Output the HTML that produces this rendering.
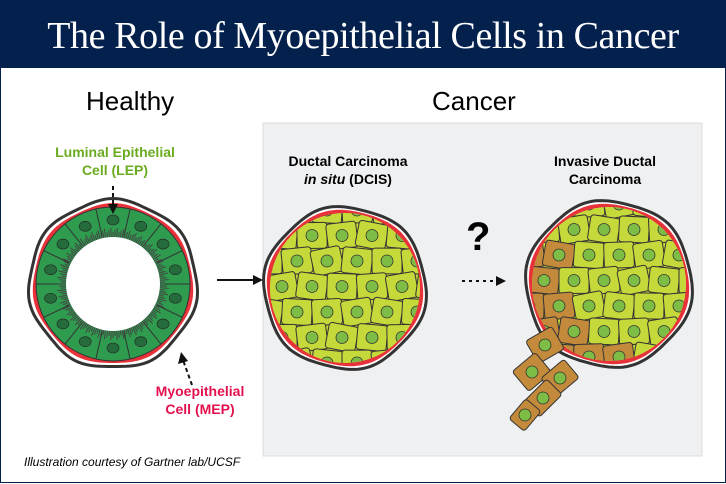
<!DOCTYPE html>
<html><head><meta charset="utf-8"><style>
body{margin:0;width:726px;height:484px;overflow:hidden;background:#fff;font-family:"Liberation Sans",sans-serif;position:relative}
.hd{position:absolute;left:0;top:0;width:726px;height:68px;background:#04214d;color:#fff;font-family:"Liberation Serif",serif;font-size:38px;text-align:center;line-height:72px;letter-spacing:-0.4px}
.frame{position:absolute;left:0;top:68px;width:724px;height:414px;border:1px solid #04214d;border-top:none}
.t{position:absolute;white-space:nowrap}
svg{position:absolute;left:0;top:0}
</style></head><body>
<div class="hd">The Role of Myoepithelial Cells in Cancer</div>
<div class="frame"></div>
<svg width="726" height="484" id="s">
<rect x="263" y="123" width="439" height="333" fill="#eff0f2" stroke="#dcdcdc"/>
<g id="g"></g>
<line x1="217" y1="280" x2="258" y2="280" stroke="#111" stroke-width="2"/>
<polygon points="263,280 253,275 253,285" fill="#111"/>
<line x1="462" y1="281" x2="498" y2="281" stroke="#111" stroke-width="2" stroke-dasharray="3,4"/>
<polygon points="506,281 496,276 496,286" fill="#111"/>
<line x1="113" y1="186" x2="113" y2="206" stroke="#111" stroke-width="2" stroke-dasharray="4,3"/>
<polygon points="113,214 108,204 118,204" fill="#111"/>
<line x1="192" y1="385" x2="183" y2="360" stroke="#111" stroke-width="2" stroke-dasharray="4,3"/>
<polygon points="181,352 178,364 188,361" fill="#111"/>
</svg>
<div class="t" style="left:86px;top:86px;font-size:26px">Healthy</div>
<div class="t" style="left:432px;top:86px;font-size:26px">Cancer</div>
<div class="t" style="left:40px;top:143px;width:150px;text-align:center;font-size:14px;font-weight:bold;color:#6aab1f;line-height:18px">Luminal Epithelial<br>Cell (LEP)</div>
<div class="t" style="left:130px;top:382px;width:140px;text-align:center;font-size:14px;font-weight:bold;color:#e3124f;line-height:18px">Myoepithelial<br>Cell (MEP)</div>
<div class="t" style="left:268px;top:152px;width:160px;text-align:center;font-size:14px;font-weight:bold;line-height:18px">Ductal Carcinoma<br><i>in situ</i> (DCIS)</div>
<div class="t" style="left:540px;top:152px;width:130px;text-align:center;font-size:14px;font-weight:bold;line-height:18px">Invasive Ductal<br>Carcinoma</div>
<div class="t" style="left:466px;top:215px;font-size:40px;font-weight:bold">?</div>
<div class="t" style="left:24px;top:455px;font-size:12px;font-style:italic">Illustration courtesy of Gartner lab/UCSF</div>
<script>
var g=document.getElementById('g'),h='';
function wavy(cx,cy,r,amp,n,sw,col,fill){var p='';for(var i=0;i<=120;i++){var a=i/120*Math.PI*2,rr=r+amp*Math.sin(a*n);p+=(i?'L':'M')+(cx+rr*Math.cos(a)).toFixed(1)+','+(cy+rr*Math.sin(a)).toFixed(1);}h+='<path d="'+p+'Z" fill="'+(fill||'none')+'" stroke="'+col+'" stroke-width="'+sw+'"/>';}
// healthy
wavy(113,284,84,1.5,7,3,'#333','#fff');
wavy(113,284,80,1,7,0,'none','#e8323a');
h+='<circle cx="113" cy="284" r="77" fill="#2e9b4e" stroke="#333"/>';
for(var i=0;i<14;i++){var a=i/14*Math.PI*2;h+='<line x1="'+(113+49*Math.cos(a))+'" y1="'+(284+49*Math.sin(a))+'" x2="'+(113+77*Math.cos(a))+'" y2="'+(284+77*Math.sin(a))+'" stroke="#333"/>';var b=a+Math.PI/14;h+='<ellipse cx="'+(113+64*Math.cos(b))+'" cy="'+(284+64*Math.sin(b))+'" rx="6" ry="5" fill="#256b3c" stroke="#222" stroke-width=".6"/>';}
for(var i=0;i<160;i++){var a=i/160*Math.PI*2,l=5+(i%3)*2;h+='<line x1="'+(113+47*Math.cos(a))+'" y1="'+(284+47*Math.sin(a))+'" x2="'+(113+(47+l)*Math.cos(a))+'" y2="'+(284+(47+l)*Math.sin(a))+'" stroke="#444" stroke-width="1"/>';}
h+='<circle cx="113" cy="284" r="47" fill="#fff"/>';
// tumor balls
function ball(cx,cy,r,id,brown){wavy(cx,cy,r+3,1.5,6,3,'#333','#fff');wavy(cx,cy,r,1,6,0,'none','#e8323a');
h+='<clipPath id="'+id+'"><circle cx="'+cx+'" cy="'+cy+'" r="'+(r-3)+'"/></clipPath><g clip-path="url(#'+id+')"><circle cx="'+cx+'" cy="'+cy+'" r="'+r+'" fill="#c6d93a"/>';
var s=30,row=0;for(var y=cy-r;y<cy+r+s;y+=s*0.85,row++){for(var x=cx-r-s+(row%2)*s/2;x<cx+r+s;x+=s){var d=Math.hypot(x-cx,y-cy);var f=(brown&&brown(x,y,d))?'#c48a3c':'#c6d93a';h+='<rect x="'+(x-s/2)+'" y="'+(y-s*0.43)+'" width="'+s+'" height="'+(s*0.86)+'" rx="3" fill="'+f+'" stroke="#333" stroke-width="1" transform="rotate('+((Math.round(x*7+y*3))%24-12)+' '+x+' '+y+')"/><circle cx="'+x+'" cy="'+y+'" r="6" fill="#7dbd45" stroke="#333" stroke-width=".8"/>';}}
h+='</g>';}
ball(345,288,78,'c1');
ball(609,284,80,'c2',function(x,y,d){return d>52&&(x<590||(y>340&&x<620))&&!(y<235);});
// tail brown cells
var tc=[[545,345,-30,30,26],[532,372,-40,30,26],[560,378,-40,30,24],[543,398,-45,32,22],[525,415,-50,26,20]];
tc.forEach(function(c){h+='<rect x="'+(c[0]-c[3]/2)+'" y="'+(c[1]-c[4]/2)+'" width="'+c[3]+'" height="'+c[4]+'" rx="3" fill="#c48a3c" stroke="#333" transform="rotate('+c[2]+' '+c[0]+' '+c[1]+')"/><circle cx="'+c[0]+'" cy="'+c[1]+'" r="6" fill="#7dbd45" stroke="#333" stroke-width=".8"/>';});
g.innerHTML=h;
</script>
</body></html>
